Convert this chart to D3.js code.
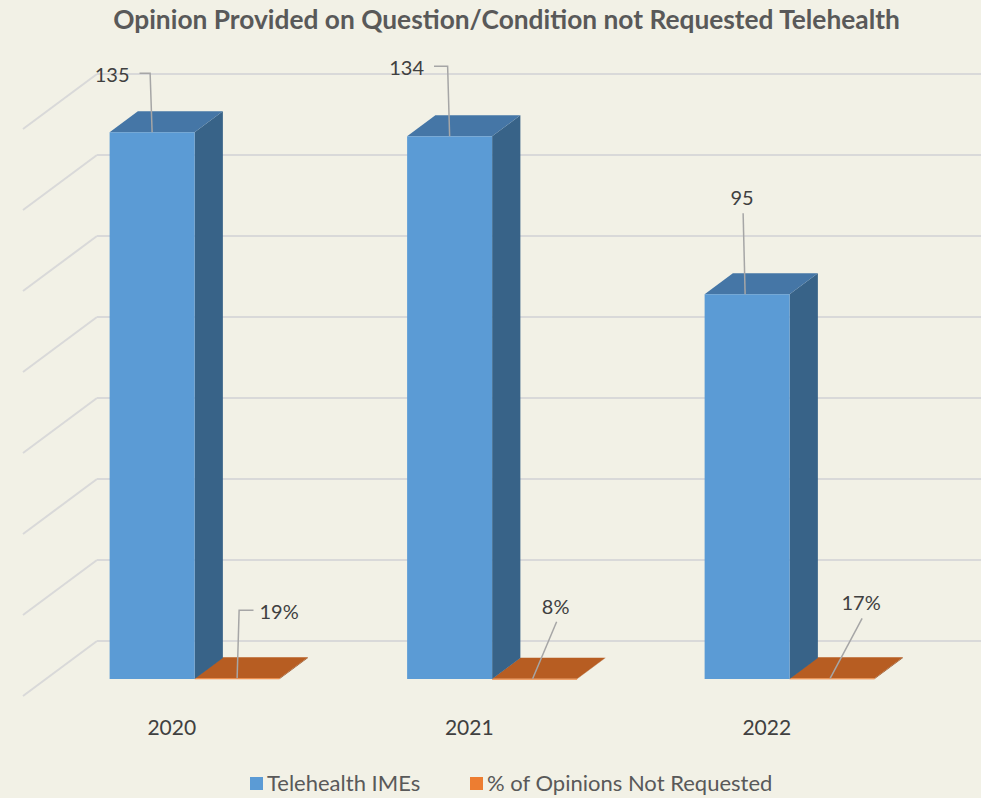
<!DOCTYPE html>
<html><head><meta charset="utf-8">
<script src="https://cdn.jsdelivr.net/npm/d3@7"></script>
<style>body{margin:0;background:#f2f1e6} svg{display:block}</style>
</head><body><svg></svg>
<script>
const years = ["2020", "2021", "2022"];
const imes = [135, 134, 95];
const pctNotRequested = [0.19, 0.08, 0.17];
const pctLabels = ["19%", "8%", "17%"];
const yTicks = [0, 20, 40, 60, 80, 100, 120, 140];
const seriesNames = ["Telehealth IMEs", "% of Opinions Not Requested"];

const W = 981, H = 798;
const depthX = 74, depthY = 55;      // floor depth on screen
const barZ0 = 17 / 55, barZ1 = 38 / 55; // bar front/back inside the floor

const svg = d3.select("svg").attr("width", W).attr("height", H)
    .style("background", "#f2f1e6");

const x = d3.scaleBand().domain(years).range([23, 915.5]);
const xs = d3.scaleBand().domain([0, 1]).range([0, x.bandwidth()]).paddingOuter(0.75);
const y = d3.scaleLinear().domain([0, 140]).range([641, 74]);

// point on floor-front x, value, depth z (0 front, 1 back)
const proj = (px, v, z) => [px + z * depthX, y(v) + (1 - z) * depthY];

// walls
const grid = svg.append("g").attr("stroke", "#d9d9d9").attr("stroke-width", 2).attr("fill", "none");
grid.selectAll("line.back").data(yTicks).enter().append("line")
    .attr("x1", proj(23, 0, 1)[0]).attr("x2", W + 20)
    .attr("y1", d => y(d)).attr("y2", d => y(d));
grid.selectAll("line.side").data(yTicks).enter().append("line")
    .attr("x1", proj(23, 0, 0)[0]).attr("y1", d => proj(23, d, 0)[1])
    .attr("x2", proj(23, 0, 1)[0]).attr("y2", d => proj(23, d, 1)[1]);

const palette = [
    { front: "#5b9bd5", top: "#4576a6", side: "#386388" },
    { front: "#ed7d31", top: "#b75d22", side: "#8e4619" }
];

function drawBar(g, x0, w, v, c) {
    const pts = (arr) => arr.map(p => p.join(",")).join(" ");
    const fl = proj(x0, 0, barZ0), ft = proj(x0, v, barZ0);
    const fr = proj(x0 + w, 0, barZ0), frt = proj(x0 + w, v, barZ0);
    const bl = proj(x0, v, barZ1), br = proj(x0 + w, v, barZ1), brb = proj(x0 + w, 0, barZ1);
    g.append("polygon").attr("points", pts([fr, frt, br, brb])).attr("fill", c.side);
    g.append("polygon").attr("points", pts([ft, frt, br, bl])).attr("fill", c.top);
    g.append("rect").attr("x", ft[0]).attr("y", ft[1])
        .attr("width", w).attr("height", Math.max(fl[1] - ft[1], 1)).attr("fill", c.front);
}

const bars = svg.append("g");
years.forEach((yr, i) => {
    const g = bars.append("g");
    drawBar(g, x(yr) + xs(1), xs.bandwidth(), pctNotRequested[i], palette[1]);
    drawBar(g, x(yr) + xs(0), xs.bandwidth(), imes[i], palette[0]);
});

// data labels: offset of label centre from the bar's top-front midpoint
const labelNudge = [
    [[-40, -57], [-43, -68], [-5, -96]],
    [[42, -66], [21, -72], [29, -75]]
];
const labels = svg.append("g").attr("font-family", "Lato, sans-serif").attr("font-size", 20).attr("fill", "#404040");
const leaders = svg.append("g").attr("stroke", "#a6a6a6").attr("stroke-width", 1.5).attr("fill", "none");
[imes, pctNotRequested].forEach((vals, s) => {
    vals.forEach((v, i) => {
        const a = proj(x(years[i]) + xs(s) + xs.bandwidth() / 2, v, barZ0);
        const [dx, dy] = labelNudge[s][i];
        const cx = a[0] + dx, cy = a[1] + dy;
        const t = labels.append("text").attr("x", cx).attr("y", cy + 7)
            .attr("text-anchor", "middle").text(s === 0 ? v : pctLabels[i]);
        const hw = t.node().getComputedTextLength() / 2;
        let path;
        if (Math.abs(dx) > 35) {
            const sx = dx < 0 ? cx + hw + 10 : cx - hw - 6;
            const ex = dx < 0 ? a[0] - 2 : a[0] + 2;
            path = [[sx, cy - 2], [ex, cy - 2], [a[0], a[1]]];
        } else {
            path = [[cx + 1, cy + 15], [a[0] - 2, a[1]]];
        }
        leaders.append("path").attr("d", d3.line()(path));
    });
});

// category labels
svg.append("g").selectAll("text").data(years).enter().append("text")
    .attr("x", d => x(d) + x.bandwidth() / 2).attr("y", 735)
    .attr("text-anchor", "middle").attr("font-family", "Lato, sans-serif")
    .attr("font-size", 21).attr("fill", "#404040").text(d => d);

// title
const title = svg.append("text").attr("x", 506.5).attr("y", 29)
    .attr("text-anchor", "middle").attr("font-family", "Lato, sans-serif")
    .attr("font-weight", "bold").attr("font-size", 24).attr("fill", "#595959")
    .text("Opinion Provided on Question/Condition not Requested Telehealth");
const tl = title.node().getComputedTextLength();
title.attr("font-size", 24 * 787 / tl);

// legend
const legend = svg.append("g").attr("font-family", "Lato, sans-serif").attr("font-size", 22).attr("fill", "#595959");
const legendX = [250, 470];
seriesNames.forEach((n, i) => {
    legend.append("rect").attr("x", legendX[i]).attr("y", 777).attr("width", 13).attr("height", 13)
        .attr("fill", palette[i].front);
    legend.append("text").attr("x", legendX[i] + 17).attr("y", 791).text(n);
});
</script>
</body></html>
